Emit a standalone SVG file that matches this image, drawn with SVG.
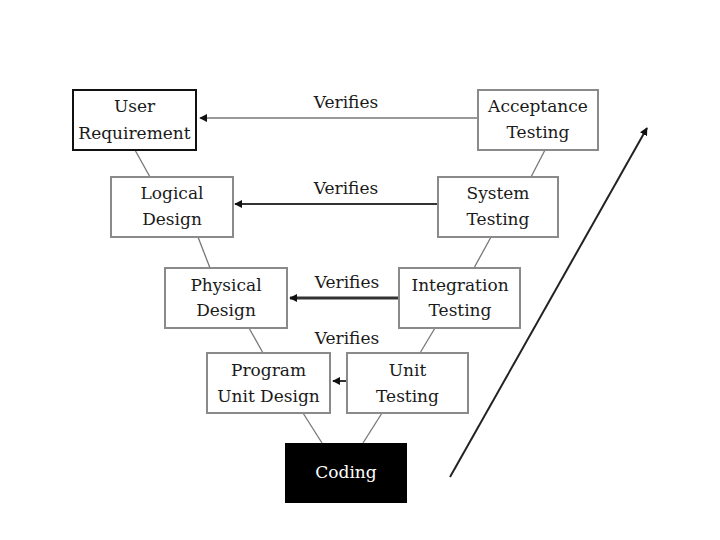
<svg xmlns="http://www.w3.org/2000/svg" width="720" height="540" viewBox="0 0 720 540">
<defs>
<style>
.box{fill:#fff;stroke:#8a8a8a;stroke-width:2}
.t{font-family:"DejaVu Serif","Liberation Serif",serif;font-size:17px;fill:#1a1a1a;text-anchor:middle}
.c{stroke:#777;stroke-width:1.3;fill:none}
</style>
<marker id="ah2" viewBox="0 0 10 10" refX="9" refY="5" markerWidth="8" markerHeight="8" orient="auto" markerUnits="userSpaceOnUse">
<path d="M0,0 L10,5 L0,10 z" fill="#111"/>
</marker>
</defs>
<rect width="720" height="540" fill="#fff"/>
<g id="connectors">
<line class="c" x1="135" y1="150" x2="150" y2="177"/>
<line class="c" x1="545" y1="150" x2="531" y2="177"/>
<line class="c" x1="198" y1="237" x2="210" y2="268"/>
<line class="c" x1="491" y1="237" x2="474" y2="268"/>
<line class="c" x1="249" y1="328" x2="263" y2="353"/>
<line class="c" x1="435" y1="328" x2="420" y2="353"/>
<line class="c" x1="303" y1="413" x2="322" y2="443"/>
<line class="c" x1="382" y1="413" x2="363" y2="443"/>
<line x1="478" y1="118" x2="200" y2="118" stroke="#9a9a9a" stroke-width="2" marker-end="url(#ah2)"/>
<line x1="438" y1="204" x2="235" y2="204" stroke="#333" stroke-width="2" marker-end="url(#ah2)"/>
<line x1="399" y1="298" x2="290" y2="298" stroke="#333" stroke-width="3" marker-end="url(#ah2)"/>
<line x1="347" y1="381" x2="333" y2="381" stroke="#333" stroke-width="2" marker-end="url(#ah2)"/>
<line x1="450" y1="477" x2="647" y2="128" stroke="#222" stroke-width="2" marker-end="url(#ah2)"/>
<text class="t" x="346" y="108">Verifies</text>
<text class="t" x="346" y="194">Verifies</text>
<text class="t" x="347" y="288">Verifies</text>
<text class="t" x="347" y="344">Verifies</text>
</g>
<g id="user-requirement">
<rect x="73" y="90" width="123" height="60" fill="#fff" stroke="#111" stroke-width="2"/>
<text class="t" x="134.5" y="112">User</text>
<text class="t" x="134.5" y="139">Requirement</text>
</g>
<g id="acceptance-testing">
<rect class="box" x="478" y="90" width="120" height="60"/>
<text class="t" x="538" y="112">Acceptance</text>
<text class="t" x="538" y="138">Testing</text>
</g>
<g id="logical-design">
<rect class="box" x="111" y="177" width="122" height="60"/>
<text class="t" x="172" y="199">Logical</text>
<text class="t" x="172" y="225">Design</text>
</g>
<g id="system-testing">
<rect class="box" x="438" y="177" width="120" height="60"/>
<text class="t" x="498" y="199">System</text>
<text class="t" x="498" y="225">Testing</text>
</g>
<g id="physical-design">
<rect class="box" x="165" y="268" width="122" height="60"/>
<text class="t" x="226" y="291">Physical</text>
<text class="t" x="226" y="316">Design</text>
</g>
<g id="integration-testing">
<rect class="box" x="399" y="268" width="121" height="60"/>
<text class="t" x="460" y="291">Integration</text>
<text class="t" x="460" y="316">Testing</text>
</g>
<g id="program-unit-design">
<rect class="box" x="207" y="353" width="123" height="60"/>
<text class="t" x="268.5" y="376">Program</text>
<text class="t" x="268.5" y="402">Unit Design</text>
</g>
<g id="unit-testing">
<rect class="box" x="347" y="353" width="121" height="60"/>
<text class="t" x="407.5" y="376">Unit</text>
<text class="t" x="407.5" y="402">Testing</text>
</g>
<g id="coding">
<rect x="285" y="443" width="122" height="60" fill="#000"/>
<text class="t" x="346" y="478" style="fill:#fff">Coding</text>
</g>
</svg>
